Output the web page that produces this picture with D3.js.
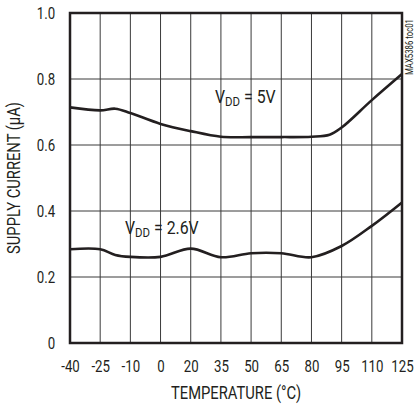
<html>
<head>
<script src="https://cdn.jsdelivr.net/npm/d3@7"></script>
<style>
  body { margin: 0; background: #fff; }
  text { font-family: Roboto, "Liberation Sans", sans-serif; fill: #231f20; }
</style>
</head>
<body>
<script>
  // temperature categories (evenly spaced on the chart)
  xLabels = ["-40", "-25", "-10", "0", "20", "35", "50", "65", "80", "95", "110", "125"]
  yTicks = [0, 0.2, 0.4, 0.6, 0.8, 1.0]

  // curve samples: position is the category index, value in uA
  vdd5Index = [0, 1, 1.5, 2, 3, 4, 5, 6, 7, 8, 8.6, 9, 10, 11]
  vdd5Value = [0.714, 0.705, 0.710, 0.697, 0.664, 0.642, 0.625, 0.624, 0.624, 0.625, 0.631, 0.653, 0.736, 0.815]

  vdd26Index = [0, 1, 1.5, 2, 3, 4, 5, 6, 7, 8, 9, 10, 11]
  vdd26Value = [0.284, 0.284, 0.267, 0.261, 0.261, 0.286, 0.260, 0.272, 0.272, 0.260, 0.294, 0.355, 0.426]

  width = 416
  height = 407
  margin = ({top: 13, right: 14, bottom: 64, left: 70})
  squeeze = 0.78   // narrow type, like the original condensed face

  const svg = d3.select("body").append("svg")
    .attr("width", width)
    .attr("height", height)

  x = d3.scaleLinear()
    .domain([0, xLabels.length - 1])
    .range([margin.left, width - margin.right])

  y = d3.scaleLinear()
    .domain([0, 1])
    .range([height - margin.bottom, margin.top])

  // grid
  svg.append("g")
    .attr("stroke", "#3a3a3a")
    .attr("stroke-width", 1)
    .selectAll("line")
    .data(d3.range(1, xLabels.length - 1))
    .join("line")
      .attr("x1", d => x(d)).attr("x2", d => x(d))
      .attr("y1", y(0)).attr("y2", y(1))

  svg.append("g")
    .attr("stroke", "#3a3a3a")
    .attr("stroke-width", 1)
    .selectAll("line")
    .data(yTicks.slice(1, -1))
    .join("line")
      .attr("x1", x(0)).attr("x2", x(xLabels.length - 1))
      .attr("y1", d => y(d)).attr("y2", d => y(d))

  // axes (labels only)
  xAxis = g => g
    .attr("transform", `translate(0,${y(0)})`)
    .call(d3.axisBottom(x).tickValues(d3.range(xLabels.length)).tickFormat(i => xLabels[i]).tickSize(0).tickPadding(17))
    .call(g => g.select(".domain").remove())

  yAxis = g => g
    .attr("transform", `translate(${x(0)},0)`)
    .call(d3.axisLeft(y).tickValues(yTicks).tickFormat(d => d === 0 ? "0" : d3.format(".1f")(d)).tickSize(0).tickPadding(19))
    .call(g => g.select(".domain").remove())

  svg.append("g").call(xAxis)
  svg.append("g").call(yAxis)
  svg.selectAll(".tick text")
    .attr("font-size", 17)
    .attr("font-family", null)
    .attr("fill", null)
    .attr("transform", `scale(${squeeze},1)`)

  // curves
  line = d3.line()
    .x(d => x(d[0]))
    .y(d => y(d[1]))
    .curve(d3.curveCatmullRom.alpha(0.5))

  svg.append("path")
    .datum(d3.zip(vdd5Index, vdd5Value))
    .attr("fill", "none")
    .attr("stroke", "#231f20")
    .attr("stroke-width", 2.6)
    .attr("d", line)

  svg.append("path")
    .datum(d3.zip(vdd26Index, vdd26Value))
    .attr("fill", "none")
    .attr("stroke", "#231f20")
    .attr("stroke-width", 2.6)
    .attr("d", line)

  // frame
  svg.append("rect")
    .attr("x", x(0)).attr("y", y(1))
    .attr("width", x(xLabels.length - 1) - x(0))
    .attr("height", y(0) - y(1))
    .attr("fill", "none")
    .attr("stroke", "#231f20")
    .attr("stroke-width", 2.5)

  function note(px, py, size, rot, sq) {
    return svg.append("text")
      .attr("transform", `translate(${px},${py}) rotate(${rot || 0}) scale(${sq || squeeze},1)`)
      .attr("font-size", size)
  }

  // curve labels
  label5 = note(215, 103, 18, 0, 0.88)
  label5.append("tspan").text("V")
  label5.append("tspan").attr("font-size", 13).attr("dy", 3).text("DD")
  label5.append("tspan").attr("dy", -3).text(" = 5V")

  label26 = note(125, 234, 18, 0, 0.88)
  label26.append("tspan").text("V")
  label26.append("tspan").attr("font-size", 13).attr("dy", 3).text("DD")
  label26.append("tspan").attr("dy", -3).text(" = 2.6V")

  // axis titles
  note((x(0) + x(xLabels.length - 1)) / 2, 399, 18, 0, 0.82)
    .attr("text-anchor", "middle")
    .text("TEMPERATURE (°C)")

  note(20, (y(0) + y(1)) / 2, 18, -90, 0.82)
    .attr("text-anchor", "middle")
    .text("SUPPLY CURRENT (µA)")

  note(413, 47, 10, -90)
    .attr("text-anchor", "middle")
    .text("MAX5386 toc01")
</script>
</body>
</html>
